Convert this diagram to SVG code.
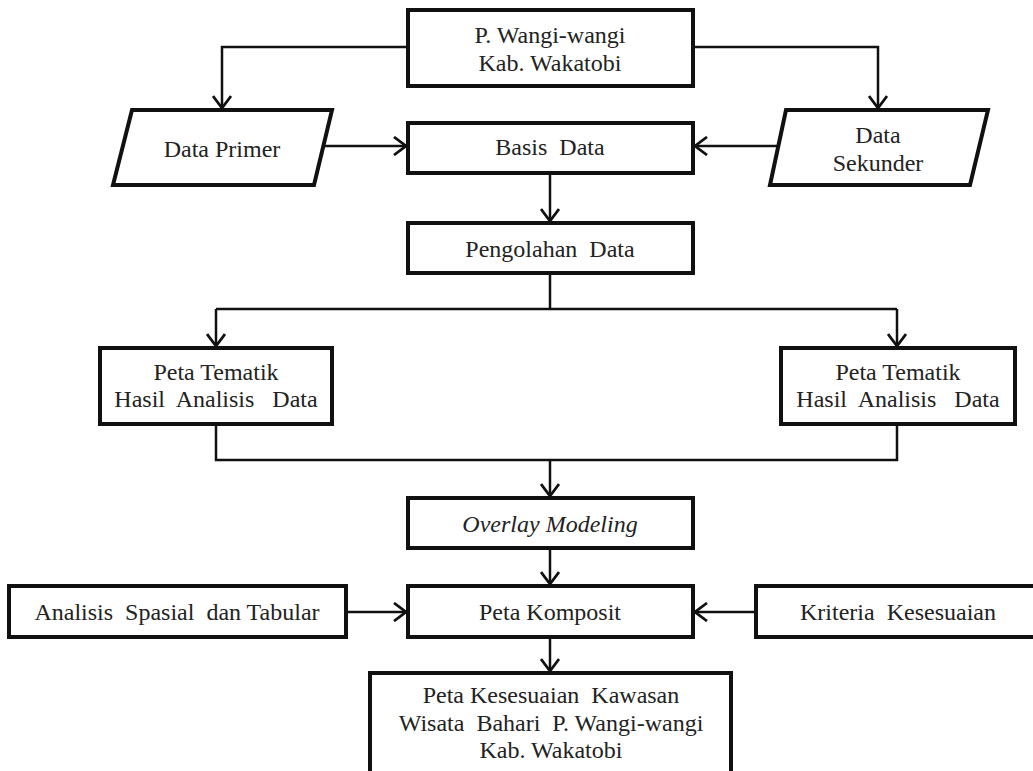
<svg xmlns="http://www.w3.org/2000/svg" width="1033" height="771" viewBox="0 0 1033 771">
  <style>
    .box { fill: #fff; stroke: #111; stroke-width: 4; stroke-linejoin: miter; }
    .link { fill: none; stroke: #111; stroke-width: 2.5; }
    .lbl { font-family: 'Liberation Serif', 'DejaVu Serif', 'Noto Serif', serif; font-size: 24px; fill: #222; text-anchor: middle; white-space: pre; }
    .it { font-style: italic; }
  </style>
  <defs>
    <marker id="arrow" viewBox="0 0 14 20" refX="13" refY="10" markerWidth="14" markerHeight="20" markerUnits="userSpaceOnUse" orient="auto">
      <path d="M1,1 L13,10 L1,19" fill="none" stroke="#111" stroke-width="2.8"/>
    </marker>
  </defs>
  <rect width="1033" height="771" fill="#fff"/>

  <!-- connectors -->
  <g id="connectors" class="link">
    <path d="M408,47 H222 V108" marker-end="url(#arrow)"/>
    <path d="M693,47 H878 V108" marker-end="url(#arrow)"/>
    <path d="M324,146 H406" marker-end="url(#arrow)"/>
    <path d="M778,146 H695" marker-end="url(#arrow)"/>
    <path d="M550,175 V221" marker-end="url(#arrow)"/>
    <path d="M550,275 V309"/>
    <path d="M216,309 H897"/>
    <path d="M216,309 V346" marker-end="url(#arrow)"/>
    <path d="M897,309 V346" marker-end="url(#arrow)"/>
    <path d="M216,426 V460 H897 V426"/>
    <path d="M550,460 V496" marker-end="url(#arrow)"/>
    <path d="M550,550 V584" marker-end="url(#arrow)"/>
    <path d="M348,612 H406" marker-end="url(#arrow)"/>
    <path d="M754,612 H695" marker-end="url(#arrow)"/>
    <path d="M550,639 V671" marker-end="url(#arrow)"/>
  </g>

  <g font-family="Liberation Serif, serif">
  <g id="lokasi">
    <rect class="box" x="408" y="10" width="285" height="76"/>
    <text class="lbl" x="550" y="43">P. Wangi-wangi</text>
    <text class="lbl" x="550" y="71">Kab. Wakatobi</text>
  </g>

  <g id="data-primer">
    <polygon class="box" points="132,110 332,110 314,185 113,185"/>
    <text class="lbl" x="222" y="157">Data Primer</text>
  </g>

  <g id="basis-data">
    <rect class="box" x="408" y="123" width="285" height="50"/>
    <text class="lbl" x="550" y="155">Basis  Data</text>
  </g>

  <g id="data-sekunder">
    <polygon class="box" points="786,110 988,110 970,185 770,185"/>
    <text class="lbl" x="878" y="143">Data</text>
    <text class="lbl" x="878" y="171">Sekunder</text>
  </g>

  <g id="pengolahan">
    <rect class="box" x="408" y="223" width="285" height="50"/>
    <text class="lbl" x="550" y="257">Pengolahan  Data</text>
  </g>

  <g id="tematik-kiri">
    <rect class="box" x="100" y="348" width="232" height="76"/>
    <text class="lbl" x="216" y="380">Peta Tematik</text>
    <text class="lbl" x="216" y="407">Hasil  Analisis   Data</text>
  </g>

  <g id="tematik-kanan">
    <rect class="box" x="781" y="348" width="234" height="76"/>
    <text class="lbl" x="898" y="380">Peta Tematik</text>
    <text class="lbl" x="898" y="407">Hasil  Analisis   Data</text>
  </g>

  <g id="overlay">
    <rect class="box" x="408" y="498" width="285" height="50"/>
    <text class="lbl it" x="550" y="532">Overlay Modeling</text>
  </g>

  <g id="analisis">
    <rect class="box" x="9" y="586" width="337" height="51"/>
    <text class="lbl" x="177" y="620">Analisis  Spasial  dan Tabular</text>
  </g>

  <g id="komposit">
    <rect class="box" x="408" y="586" width="285" height="51"/>
    <text class="lbl" x="550" y="620">Peta Komposit</text>
  </g>

  <g id="kriteria">
    <rect class="box" x="756" y="586" width="290" height="51"/>
    <text class="lbl" x="898" y="620">Kriteria  Kesesuaian</text>
  </g>

  <g id="hasil">
    <rect class="box" x="370" y="673" width="361" height="110"/>
    <text class="lbl" x="551" y="703">Peta Kesesuaian  Kawasan</text>
    <text class="lbl" x="551" y="731">Wisata  Bahari  P. Wangi-wangi</text>
    <text class="lbl" x="551" y="758">Kab. Wakatobi</text>
  </g>
  </g>
</svg>
